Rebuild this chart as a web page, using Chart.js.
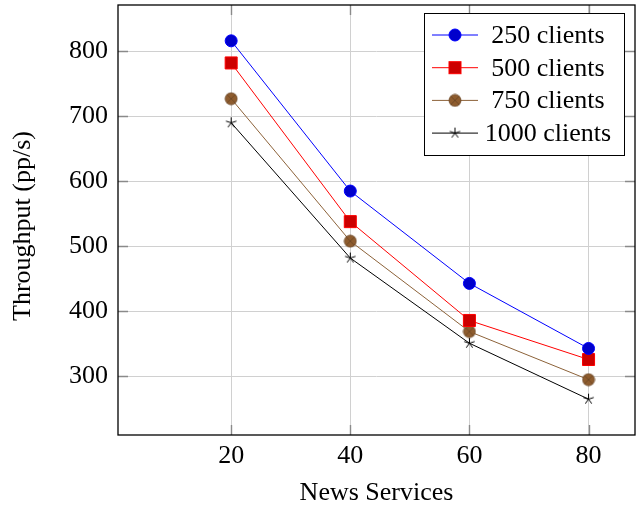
<!DOCTYPE html>
<html>
<head>
<meta charset="utf-8">
<script src="https://cdn.jsdelivr.net/npm/chart.js@4.4.0/dist/chart.umd.min.js"></script>
<style>
  html, body { margin: 0; padding: 0; background: #fff; }
  #wrap { width: 639px; height: 510px; }
</style>
</head>
<body>
<div id="wrap"><canvas id="chart" width="639" height="510"></canvas></div>
<script>
// Данные графика
var xValues = [20, 40, 60, 80];
var clients250 = [816, 585, 443, 343];
var clients500 = [782, 538, 386, 326];
var clients750 = [727, 508, 369, 295];
var clients1000 = [690, 482, 351, 265];
var seriesLabels = ["250 clients", "500 clients", "750 clients", "1000 clients"];
var xTicks = [20, 40, 60, 80];
var yTicks = [300, 400, 500, 600, 700, 800];
var yTitle = "Throughput (pp/s)";

var FONT = "'Liberation Serif', 'DejaVu Serif', serif";

// Маркер "otimes*" (круг с крестом)
function makeOtimes(r, fill, stroke) {
  var c = document.createElement("canvas");
  var s = Math.ceil(r * 2 + 2);
  c.width = s; c.height = s;
  var g = c.getContext("2d");
  var m = s / 2;
  g.beginPath();
  g.arc(m, m, r, 0, Math.PI * 2);
  g.fillStyle = fill;
  g.fill();
  g.lineWidth = 0.8;
  g.strokeStyle = stroke;
  g.stroke();
  var d = r * Math.SQRT1_2;
  g.beginPath();
  g.moveTo(m - d, m - d); g.lineTo(m + d, m + d);
  g.moveTo(m + d, m - d); g.lineTo(m - d, m + d);
  g.stroke();
  return c;
}

// Маркер "star" (пятилучевая звёздочка)
function makeStar(r, color) {
  var c = document.createElement("canvas");
  var s = Math.ceil(r * 2 + 2);
  c.width = s; c.height = s;
  var g = c.getContext("2d");
  var m = s / 2;
  g.strokeStyle = color;
  g.lineWidth = 1;
  g.beginPath();
  for (var k = 0; k < 5; k++) {
    var a = -Math.PI / 2 + k * 2 * Math.PI / 5;
    g.moveTo(m, m);
    g.lineTo(m + r * Math.cos(a), m + r * Math.sin(a));
  }
  g.stroke();
  return c;
}

var otimesImg = makeOtimes(6, "#8e5c2e", "#6a4524");
var starImg = makeStar(5.5, "#000");

var lineColors = ["#0000ff", "#ff0000", "#8c6239", "#000000"];
var pointFills = ["#0000cc", "#cc0000", otimesImg, starImg];

function toPoints(ys) {
  return xValues.map(function (x, i) { return { x: x, y: ys[i] }; });
}

// Внутренние засечки на всех четырёх сторонах
var innerTicks = {
  id: "innerTicks",
  beforeDatasetsDraw: function (chart) {
    var ctx = chart.ctx, a = chart.chartArea;
    var xs = chart.scales.x, ys = chart.scales.y;
    var len = 10;
    ctx.save();
    ctx.strokeStyle = "#8a8a8a";
    ctx.lineWidth = 1.4;
    ctx.beginPath();
    xTicks.forEach(function (v) {
      var px = Math.round(xs.getPixelForValue(v)) + 0.5;
      ctx.moveTo(px, a.bottom); ctx.lineTo(px, a.bottom - len);
      ctx.moveTo(px, a.top); ctx.lineTo(px, a.top + len);
    });
    yTicks.forEach(function (v) {
      var py = Math.round(ys.getPixelForValue(v)) + 0.5;
      ctx.moveTo(a.left, py); ctx.lineTo(a.left + len, py);
      ctx.moveTo(a.right, py); ctx.lineTo(a.right - len, py);
    });
    ctx.stroke();

    // Подпись оси Y
    ctx.translate(23, (a.top + a.bottom) / 2 + 6);
    ctx.rotate(-Math.PI / 2);
    ctx.font = "26px " + FONT;
    ctx.fillStyle = "#000";
    ctx.textAlign = "center";
    ctx.textBaseline = "middle";
    ctx.fillText(yTitle, 0, 0);
    ctx.restore();
  }
};

function drawMarker(ctx, i, x, y) {
  if (i === 0) {
    ctx.beginPath();
    ctx.arc(x, y, 6, 0, Math.PI * 2);
    ctx.fillStyle = pointFills[0]; ctx.fill();
    ctx.strokeStyle = lineColors[0]; ctx.lineWidth = 1; ctx.stroke();
  } else if (i === 1) {
    ctx.fillStyle = pointFills[1];
    ctx.fillRect(x - 6, y - 6, 12, 12);
    ctx.strokeStyle = lineColors[1]; ctx.lineWidth = 1;
    ctx.strokeRect(x - 6, y - 6, 12, 12);
  } else {
    var img = pointFills[i];
    ctx.drawImage(img, x - img.width / 2, y - img.height / 2);
  }
}

// Рамка осей и легенда
var frameLegend = {
  id: "frameLegend",
  afterDatasetsDraw: function (chart) {
    var ctx = chart.ctx, a = chart.chartArea;
    ctx.save();
    ctx.strokeStyle = "#000";
    ctx.lineWidth = 1.3;
    ctx.strokeRect(a.left, a.top, a.right - a.left, a.bottom - a.top);

    var bx = a.right - 211, by = a.top + 8, bw = 200, bh = 142;
    ctx.fillStyle = "#fff";
    ctx.fillRect(bx, by, bw, bh);
    ctx.lineWidth = 1;
    ctx.strokeRect(bx + 0.5, by + 0.5, bw, bh);

    ctx.font = "26px " + FONT;
    ctx.textAlign = "center";
    ctx.textBaseline = "middle";
    for (var i = 0; i < seriesLabels.length; i++) {
      var cy = by + 22 + i * 32.7;
      ctx.strokeStyle = lineColors[i];
      ctx.lineWidth = 1;
      ctx.beginPath();
      ctx.moveTo(bx + 8, cy); ctx.lineTo(bx + 54, cy);
      ctx.stroke();
      drawMarker(ctx, i, bx + 31, cy);
      ctx.fillStyle = "#000";
      ctx.fillText(seriesLabels[i], bx + 124, cy + 1);
    }
    ctx.restore();
  }
};

var datasets = [clients250, clients500, clients750, clients1000].map(function (ys, i) {
  var ds = {
    label: seriesLabels[i],
    data: toPoints(ys),
    borderColor: lineColors[i],
    borderWidth: 1,
    fill: false,
    tension: 0,
    pointBorderWidth: 1,
    pointBorderColor: lineColors[i]
  };
  if (i === 0) {
    ds.pointStyle = "circle"; ds.pointRadius = 6; ds.pointBackgroundColor = pointFills[0];
  } else if (i === 1) {
    ds.pointStyle = "rect"; ds.pointRadius = 8.5; ds.pointBackgroundColor = pointFills[1];
  } else {
    ds.pointStyle = pointFills[i]; ds.pointRadius = 6;
  }
  return ds;
});

function noPad(s) {
  s.paddingTop = 0; s.paddingBottom = 0; s.paddingLeft = 0; s.paddingRight = 0;
}

var chart = new Chart(document.getElementById("chart").getContext("2d"), {
  type: "line",
  data: { datasets: datasets },
  plugins: [innerTicks, frameLegend],
  options: {
    responsive: false,
    animation: false,
    layout: { autoPadding: false, padding: { top: 5, right: 4, left: 0, bottom: 0 } },
    plugins: { legend: { display: false }, tooltip: { enabled: false } },
    scales: {
      x: {
        type: "linear",
        min: 1,
        max: 87.8,
        afterBuildTicks: function (s) { s.ticks = xTicks.map(function (v) { return { value: v }; }); },
        afterFit: function (s) { s.height = 75; noPad(s); },
        grid: { color: "#d0d0d0", lineWidth: 1, drawTicks: false },
        border: { display: false },
        ticks: { color: "#000", font: { family: FONT, size: 26 }, padding: 6, maxRotation: 0 },
        title: { display: true, text: "News Services", color: "#000", font: { family: FONT, size: 26 }, padding: { top: 0, bottom: 1 } }
      },
      y: {
        type: "linear",
        min: 209.9,
        max: 871.1,
        afterBuildTicks: function (s) { s.ticks = yTicks.map(function (v) { return { value: v }; }); },
        afterFit: function (s) { s.width = 118; noPad(s); },
        grid: { color: "#d0d0d0", lineWidth: 1, drawTicks: false },
        border: { display: false },
        ticks: { color: "#000", font: { family: FONT, size: 26 }, padding: 10 }
      }
    }
  }
});
</script>
</body>
</html>
